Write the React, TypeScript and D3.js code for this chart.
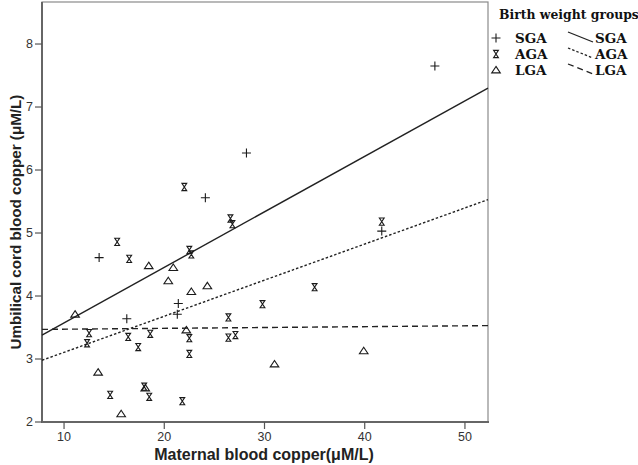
import React from "react";
import * as d3 from "d3";

const groups = ["SGA", "AGA", "LGA"];

const sgaX = [47.0, 28.2, 24.1, 13.5, 41.7, 16.26, 21.4, 21.3];
const sgaY = [7.65, 6.27, 5.56, 4.61, 5.03, 3.64, 3.88, 3.71];

const agaX = [22.0, 15.3, 16.5, 26.6, 26.8, 22.5, 22.7, 12.5, 12.3, 16.4, 18.6, 17.4, 22.5, 22.5, 26.4, 26.4, 27.1, 14.6, 18.0, 18.5, 21.8, 29.8, 35.0, 41.7];
const agaY = [5.73, 4.86, 4.59, 5.23, 5.14, 4.73, 4.66, 3.41, 3.25, 3.35, 3.4, 3.19, 3.33, 3.08, 3.66, 3.34, 3.38, 2.43, 2.56, 2.4, 2.33, 3.87, 4.14, 5.18];

const lgaX = [18.45, 20.9, 20.4, 22.7, 24.3, 11.1, 22.2, 13.4, 18.1, 15.7, 31.0, 39.9];
const lgaY = [4.48, 4.45, 4.24, 4.07, 4.16, 3.71, 3.46, 2.79, 2.54, 2.13, 2.92, 3.13];

// fitted lines: intercept, slope
const fitIntercepts = [2.693, 2.533, 3.4595];
const fitSlopes = [0.0881, 0.0573, 0.00135];

const xTicks = [10, 20, 30, 40, 50];
const yTicks = [2, 3, 4, 5, 6, 7, 8];

const xTitle = "Maternal blood copper(\u03bcM/L)";
const yTitle = "Umbilical cord blood copper (\u03bcM/L)";
const legendTitle = "Birth weight groups";

const L = 42, R = 488, T = 2, B = 422;

const x = d3.scaleLinear().domain([7.8, 52.3]).range([L, R]);
const y = d3.scaleLinear().domain([2, 8.667]).range([B, T]);

const markerColor = "#1a1a1a";

function Plus({ cx, cy }: { cx: number; cy: number }) {
  return (
    <path d={`M${cx - 4.5},${cy}H${cx + 4.5}M${cx},${cy - 4.5}V${cy + 4.5}`} stroke={markerColor} strokeWidth={1.1} fill="none" />
  );
}
function Hourglass({ cx, cy }: { cx: number; cy: number }) {
  const w = 2.4, h = 3.6;
  return (
    <path d={`M${cx - w},${cy - h}H${cx + w}L${cx - w},${cy + h}H${cx + w}Z`} stroke={markerColor} strokeWidth={1.1} fill="none" />
  );
}
function Tri({ cx, cy }: { cx: number; cy: number }) {
  const w = 4.3, h = 3.6;
  return (
    <path d={`M${cx},${cy - h}L${cx + w},${cy + h * 0.8}H${cx - w}Z`} stroke={markerColor} strokeWidth={1.1} fill="none" />
  );
}

const lineStyles = [
  { dash: undefined as string | undefined },
  { dash: "2.5,2" },
  { dash: "6,4" },
];

export default function App() {
  const [x0, x1] = x.domain();
  const sans = "'Liberation Sans', Arial, sans-serif";
  const serif = "'DejaVu Serif', serif";
  return (
    <svg width={638} height={465} style={{ position: "absolute", left: 0, top: 0, background: "#fff" }}>
      <rect x={0} y={0} width={638} height={465} fill="#fff" />
      {/* frame */}
      <rect x={L} y={T} width={R - L} height={B - T} fill="none" stroke="#8a8a8a" strokeWidth={1.2} />
      <line x1={L} x2={L} y1={T} y2={B + 1} stroke="#666" strokeWidth={2} />
      <line x1={L - 1} x2={R + 1} y1={B} y2={B} stroke="#666" strokeWidth={2} />
      {/* y ticks */}
      {yTicks.map((t) => (
        <g key={"y" + t}>
          <line x1={L - 7} x2={L} y1={y(t)} y2={y(t)} stroke="#555" strokeWidth={1.2} />
          <text x={L - 9} y={y(t)} dy="0.35em" textAnchor="end" fontSize={12.5} fontFamily={sans} fill="#333">{t}</text>
        </g>
      ))}
      {xTicks.map((t) => (
        <g key={"x" + t}>
          <line x1={x(t)} x2={x(t)} y1={B} y2={B + 7} stroke="#555" strokeWidth={1.2} />
          <text x={x(t)} y={B + 19} textAnchor="middle" fontSize={12.5} fontFamily={sans} fill="#333">{t}</text>
        </g>
      ))}
      {/* fit lines */}
      {groups.map((g, i) => (
        <line key={"f" + g}
          x1={x(x0)} y1={y(fitIntercepts[i] + fitSlopes[i] * x0)}
          x2={x(x1)} y2={y(fitIntercepts[i] + fitSlopes[i] * x1)}
          stroke="#222" strokeWidth={1.4} strokeDasharray={lineStyles[i].dash} />
      ))}
      {/* points */}
      {sgaX.map((v, i) => <Plus key={"s" + i} cx={x(v)} cy={y(sgaY[i])} />)}
      {agaX.map((v, i) => <Hourglass key={"a" + i} cx={x(v)} cy={y(agaY[i])} />)}
      {lgaX.map((v, i) => <Tri key={"l" + i} cx={x(v)} cy={y(lgaY[i])} />)}
      {/* axis titles */}
      <text x={264} y={460} textAnchor="middle" fontSize={16} fontWeight="bold" fontFamily={sans} fill="#222">{xTitle}</text>
      <text transform={`translate(21,222) rotate(-90)`} textAnchor="middle" fontSize={15.2} fontWeight="bold" fontFamily={sans} fill="#222">{yTitle}</text>
      {/* legend */}
      <text x={499} y={19} fontSize={12.4} fontWeight="bold" fontFamily={serif} fill="#111">{legendTitle}</text>
      {groups.map((g, i) => {
        const cy = 38 + i * 16;
        return (
          <g key={"lg" + g}>
            {i === 0 && <Plus cx={496} cy={cy} />}
            {i === 1 && <Hourglass cx={496} cy={cy} />}
            {i === 2 && <Tri cx={496} cy={cy} />}
            <text x={515} y={cy + 5} fontSize={13.5} fontWeight="bold" fontFamily={serif} fill="#111">{g}</text>
            <line x1={568} y1={cy - 6} x2={593} y2={cy + 4} stroke="#222" strokeWidth={1.3} strokeDasharray={lineStyles[i].dash} />
            <text x={595} y={cy + 5} fontSize={13.5} fontWeight="bold" fontFamily={serif} fill="#111">{g}</text>
          </g>
        );
      })}
    </svg>
  );
}
